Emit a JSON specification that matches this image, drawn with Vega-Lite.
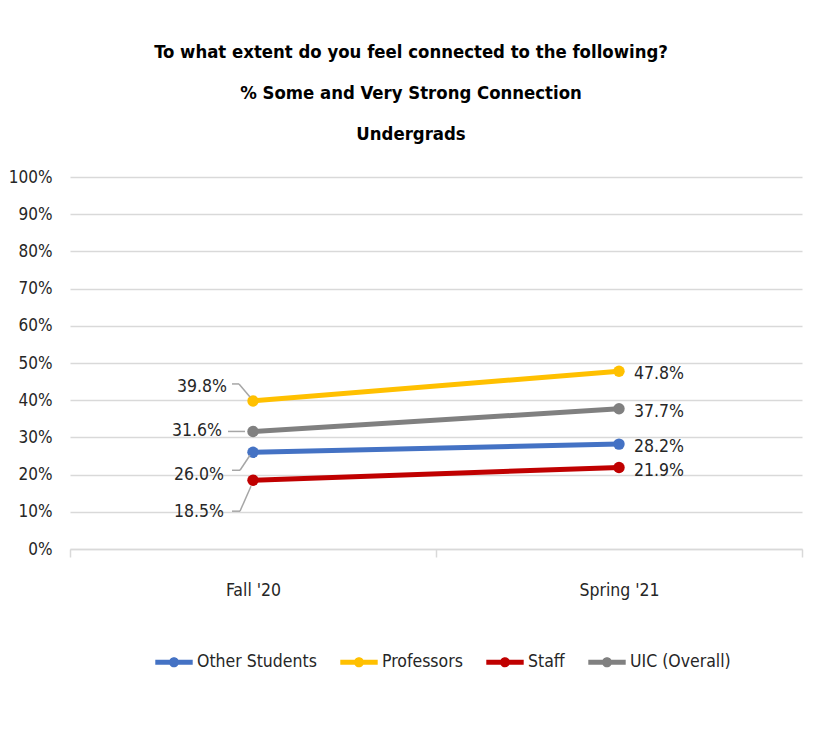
{
  "$schema": "https://vega.github.io/schema/vega-lite/v6.json",
  "autosize": {"type": "none"},
  "width": 732,
  "height": 372,
  "padding": {"left": 70, "top": 177, "right": 12, "bottom": 189},
  "background": "white",
  "config": {
    "font": "DejaVu Sans Condensed",
    "view": {"stroke": null},
    "axis": {"labelFont": "DejaVu Sans Condensed", "labelColor": "#262626"},
    "legend": {"labelFont": "DejaVu Sans Condensed"},
    "title": {"font": "DejaVu Sans Condensed"},
    "text": {"font": "DejaVu Sans Condensed"}
  },
  "title": {
    "text": ["To what extent do you feel connected to the following?", "% Some and Very Strong Connection", "Undergrads"],
    "fontSize": 18.4,
    "fontWeight": "bold",
    "lineHeight": 41,
    "color": "#000000",
    "anchor": "middle",
    "dx": -25,
    "offset": 25
  },
  "data": {
    "values": [
      {"series": "Other Students", "period": "Fall '20", "value": 0.260},
      {"series": "Other Students", "period": "Spring '21", "value": 0.282},
      {"series": "Professors", "period": "Fall '20", "value": 0.398},
      {"series": "Professors", "period": "Spring '21", "value": 0.478},
      {"series": "Staff", "period": "Fall '20", "value": 0.185},
      {"series": "Staff", "period": "Spring '21", "value": 0.219},
      {"series": "UIC (Overall)", "period": "Fall '20", "value": 0.316},
      {"series": "UIC (Overall)", "period": "Spring '21", "value": 0.377}
    ]
  },
  "encoding": {
    "x": {
      "field": "period",
      "type": "nominal",
      "sort": ["Fall '20", "Spring '21"],
      "scale": {"type": "band", "paddingInner": 0, "paddingOuter": 0},
      "axis": {
        "title": null,
        "labelAngle": 0,
        "labelFontSize": 17.5,
        "labelPadding": 24,
        "domainColor": "#d9d9d9",
        "domainWidth": 1.5,
        "tickColor": "#d9d9d9",
        "tickWidth": 1.5,
        "tickSize": 8,
        "tickBand": "extent",
        "grid": false
      }
    },
    "y": {
      "field": "value",
      "type": "quantitative",
      "scale": {"domain": [0, 1]},
      "axis": {
        "title": null,
        "format": ".0%",
        "values": [0, 0.1, 0.2, 0.3, 0.4, 0.5, 0.6, 0.7, 0.8, 0.9, 1],
        "labelFontSize": 17,
        "labelPadding": 18,
        "ticks": false,
        "tickSize": 0,
        "domain": false,
        "gridColor": "#d9d9d9",
        "gridWidth": 1.5
      }
    }
  },
  "layer": [
    {
      "mark": {"type": "line", "strokeWidth": 5},
      "encoding": {
        "color": {
          "field": "series",
          "type": "nominal",
          "scale": {
            "domain": ["Other Students", "Professors", "Staff", "UIC (Overall)"],
            "range": ["#4472C4", "#FFC000", "#C00000", "#808080"]
          },
          "legend": {
            "title": null,
            "orient": "none",
            "direction": "horizontal",
            "legendX": 85,
            "legendY": 466,
            "labelFontSize": 17.5,
            "labelColor": "#262626",
            "labelOffset": 4,
            "columnPadding": 23,
            "symbolSize": 1400,
            "symbolType": "M-1,-0.14 L1,-0.14 L1,0.14 L-1,0.14 Z M0.27,0 A0.27,0.27 0 1,1 -0.27,0 A0.27,0.27 0 1,1 0.27,0 Z",
            "symbolStrokeWidth": 0,
            "encode": {
              "symbols": {"update": {"fill": {"scale": "color", "field": "value"}, "strokeWidth": {"value": 0}, "fillOpacity": {"value": 1}}}
            }
          }
        }
      }
    },
    {
      "mark": {"type": "point", "filled": true, "size": 130, "opacity": 1},
      "encoding": {
        "color": {"field": "series", "type": "nominal", "legend": null}
      }
    },
    {
      "transform": [{"filter": {"field": "period", "equal": "Spring '21"}}],
      "mark": {"type": "text", "align": "left", "baseline": "middle", "dx": 15, "dy": 3, "fontSize": 17.5, "color": "#262626"},
      "encoding": {"text": {"field": "value", "type": "quantitative", "format": ".1%"}}
    },
    {
      "transform": [{"filter": {"and": [{"field": "period", "equal": "Fall '20"}, {"field": "series", "equal": "Professors"}]}}],
      "mark": {"type": "text", "align": "right", "baseline": "middle", "dx": -26, "dy": -14, "fontSize": 17.5, "color": "#262626"},
      "encoding": {"text": {"field": "value", "type": "quantitative", "format": ".1%"}}
    },
    {
      "transform": [{"filter": {"and": [{"field": "period", "equal": "Fall '20"}, {"field": "series", "equal": "UIC (Overall)"}]}}],
      "mark": {"type": "text", "align": "right", "baseline": "middle", "dx": -31, "dy": 0, "fontSize": 17.5, "color": "#262626"},
      "encoding": {"text": {"field": "value", "type": "quantitative", "format": ".1%"}}
    },
    {
      "transform": [{"filter": {"and": [{"field": "period", "equal": "Fall '20"}, {"field": "series", "equal": "Other Students"}]}}],
      "mark": {"type": "text", "align": "right", "baseline": "middle", "dx": -29, "dy": 23, "fontSize": 17.5, "color": "#262626"},
      "encoding": {"text": {"field": "value", "type": "quantitative", "format": ".1%"}}
    },
    {
      "transform": [{"filter": {"and": [{"field": "period", "equal": "Fall '20"}, {"field": "series", "equal": "Staff"}]}}],
      "mark": {"type": "text", "align": "right", "baseline": "middle", "dx": -29, "dy": 32, "fontSize": 17.5, "color": "#262626"},
      "encoding": {"text": {"field": "value", "type": "quantitative", "format": ".1%"}}
    },
    {
      "transform": [{"filter": {"and": [{"field": "period", "equal": "Fall '20"}, {"field": "series", "equal": "Professors"}]}}],
      "mark": {"type": "rule", "color": "#a6a6a6", "strokeWidth": 1.5, "xOffset": -21, "yOffset": -17, "x2Offset": -14, "y2Offset": -17},
      "encoding": {"x2": {"field": "period"}, "y2": {"field": "value"}}
    },
    {
      "transform": [{"filter": {"and": [{"field": "period", "equal": "Fall '20"}, {"field": "series", "equal": "Professors"}]}}],
      "mark": {"type": "rule", "color": "#a6a6a6", "strokeWidth": 1.5, "xOffset": -14, "yOffset": -17, "x2Offset": -3, "y2Offset": -4},
      "encoding": {"x2": {"field": "period"}, "y2": {"field": "value"}}
    },
    {
      "transform": [{"filter": {"and": [{"field": "period", "equal": "Fall '20"}, {"field": "series", "equal": "UIC (Overall)"}]}}],
      "mark": {"type": "rule", "color": "#a6a6a6", "strokeWidth": 1.5, "xOffset": -25, "yOffset": 0, "x2Offset": -8, "y2Offset": 0},
      "encoding": {"x2": {"field": "period"}, "y2": {"field": "value"}}
    },
    {
      "transform": [{"filter": {"and": [{"field": "period", "equal": "Fall '20"}, {"field": "series", "equal": "Other Students"}]}}],
      "mark": {"type": "rule", "color": "#a6a6a6", "strokeWidth": 1.5, "xOffset": -21, "yOffset": 18, "x2Offset": -13, "y2Offset": 18},
      "encoding": {"x2": {"field": "period"}, "y2": {"field": "value"}}
    },
    {
      "transform": [{"filter": {"and": [{"field": "period", "equal": "Fall '20"}, {"field": "series", "equal": "Other Students"}]}}],
      "mark": {"type": "rule", "color": "#a6a6a6", "strokeWidth": 1.5, "xOffset": -13, "yOffset": 18, "x2Offset": -3, "y2Offset": 3},
      "encoding": {"x2": {"field": "period"}, "y2": {"field": "value"}}
    },
    {
      "transform": [{"filter": {"and": [{"field": "period", "equal": "Fall '20"}, {"field": "series", "equal": "Staff"}]}}],
      "mark": {"type": "rule", "color": "#a6a6a6", "strokeWidth": 1.5, "xOffset": -21, "yOffset": 31, "x2Offset": -13, "y2Offset": 31},
      "encoding": {"x2": {"field": "period"}, "y2": {"field": "value"}}
    },
    {
      "transform": [{"filter": {"and": [{"field": "period", "equal": "Fall '20"}, {"field": "series", "equal": "Staff"}]}}],
      "mark": {"type": "rule", "color": "#a6a6a6", "strokeWidth": 1.5, "xOffset": -13, "yOffset": 31, "x2Offset": -2, "y2Offset": 6},
      "encoding": {"x2": {"field": "period"}, "y2": {"field": "value"}}
    }
  ]
}
